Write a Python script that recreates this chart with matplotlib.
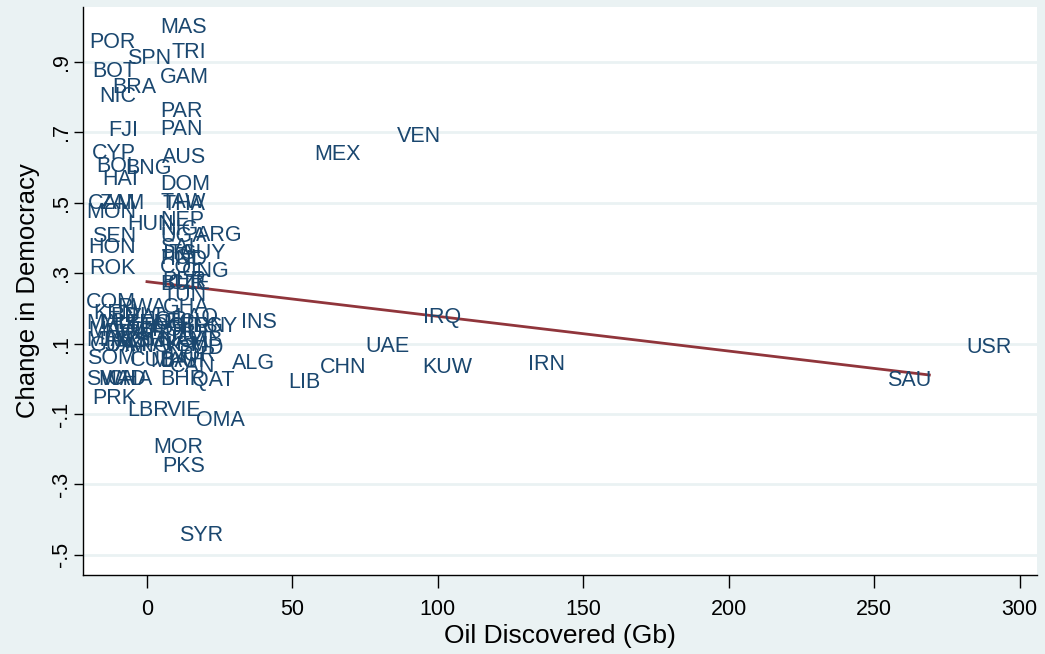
import matplotlib
matplotlib.use("Agg")
import matplotlib.pyplot as plt

# 国コードと (石油発見量, 民主化の変化)
codes = ["MAS", "POR", "TRI", "SPN", "BOT", "GAM", "BRA", "NIC", "PAR", "PAN",
         "FJI", "CYP", "AUS", "BOL", "BNG", "HAI", "DOM", "MEX", "VEN", "CAM",
         "ZAM", "TAW", "THA", "MON", "NEP", "HUN", "NIG", "SEN", "UGA", "ARG",
         "HON", "SAL", "ITA", "GUY", "POL", "IND", "COL", "CNG", "ROK", "PER",
         "BUR", "CZE", "TUN", "COM", "RWA", "GHA", "KEN", "BDI", "ZAI", "LAO",
         "JOR", "MAL", "MLI", "ETH", "BEN", "TOG", "GUI", "ECU", "BRN", "EGY",
         "INS", "MAW", "NIR", "CAF", "BFO", "PHI", "TUR", "MAA", "TAZ", "MZM",
         "SRI", "NAM", "GAB", "GUA", "JAM", "ANG", "PAK", "YEM", "SUD", "UAE",
         "IRQ", "SOM", "CUB", "MAU", "BAH", "NOR", "CAN", "ALG", "CHN", "KUW",
         "IRN", "SWA", "MAD", "CHA", "BHR", "QAT", "LIB", "USR", "SAU", "PRK",
         "LBR", "VIE", "OMA", "MOR", "PKS", "SYR"]
oil = [4.5, -20.0, 8.6, -6.9, -18.9, 4.5, -12.0, -16.5, 4.5, 4.5,
       -13.4, -18.9, 5.2, -17.5, -7.6, -15.5, 4.5, 57.4, 86.0, -20.3,
       -16.2, 4.5, 5.2, -21.0, 4.5, -6.9, 4.5, -18.9, 4.5, 16.9,
       -20.3, 4.5, 5.5, 11.4, 4.5, 7.9, 4.5, 12.0, -20.0, 5.2,
       4.5, 7.2, 5.2, -21.0, -10.3, 5.5, -18.6, -12.7, -6.5, 9.6,
       -0.7, -21.0, -16.2, -11.7, -7.6, -2.4, 2.8, 6.2, 11.4, 15.5,
       32.3, -20.3, -14.8, -9.3, -3.1, 3.8, 9.6, -21.0, -16.2, -11.0,
       -4.1, 4.5, 10.7, -19.6, -14.4, -7.6, -2.4, 5.2, 10.7, 75.0,
       94.9, -20.6, -5.8, 1.0, 4.5, 7.2, 7.9, 29.2, 59.5, 94.6,
       131.1, -21.0, -16.9, -13.4, 4.5, 15.5, 48.5, 281.7, 254.6, -18.9,
       -6.9, 6.9, 16.9, 2.1, 5.2, 11.0]
dem = [0.997, 0.954, 0.926, 0.909, 0.872, 0.857, 0.826, 0.803, 0.758, 0.707,
       0.704, 0.641, 0.630, 0.602, 0.596, 0.565, 0.551, 0.636, 0.687, 0.499,
       0.499, 0.502, 0.494, 0.471, 0.451, 0.437, 0.423, 0.403, 0.403, 0.406,
       0.372, 0.372, 0.355, 0.355, 0.343, 0.338, 0.315, 0.306, 0.312, 0.278,
       0.269, 0.272, 0.238, 0.218, 0.204, 0.204, 0.187, 0.178, 0.173, 0.173,
       0.167, 0.156, 0.156, 0.150, 0.156, 0.150, 0.156, 0.161, 0.150, 0.150,
       0.159, 0.136, 0.130, 0.130, 0.136, 0.130, 0.130, 0.110, 0.110, 0.107,
       0.110, 0.110, 0.110, 0.096, 0.096, 0.093, 0.096, 0.096, 0.087, 0.093,
       0.173, 0.059, 0.051, 0.048, 0.048, 0.065, 0.034, 0.045, 0.031, 0.031,
       0.042, -0.003, -0.003, -0.003, -0.003, -0.006, -0.009, 0.088, -0.006, -0.057,
       -0.091, -0.091, -0.117, -0.194, -0.248, -0.444]

# 回帰直線の両端
fit_x = [0, 269]
fit_y = [0.276, 0.011]

xticks = [0, 50, 100, 150, 200, 250, 300]
yticks = [-0.5, -0.3, -0.1, 0.1, 0.3, 0.5, 0.7, 0.9]
ylabels = ["-.5", "-.3", "-.1", ".1", ".3", ".5", ".7", ".9"]

bg = "#EAF2F3"
navy = "#1A476F"
maroon = "#90353B"

plt.rcParams['font.family'] = ['Liberation Sans', 'DejaVu Sans']

fig = plt.figure(figsize=(10.45, 6.54), dpi=100, facecolor=bg)
ax = fig.add_axes([0.0794, 0.1208, 0.9129, 0.8685])
ax.set_facecolor("white")

ax.set_xlim(-22, 306)
ax.set_ylim(-0.557, 1.056)

for yt in yticks:
    ax.axhline(yt, color=bg, lw=2, zorder=0)

ax.plot(fit_x, fit_y, color=maroon, lw=2, zorder=2)

for c, x, y in zip(codes, oil, dem):
    ax.text(x, y, c, color=navy, fontsize=15.5, ha="left", va="center", zorder=3)

ax.set_xticks(xticks)
ax.set_yticks(yticks)
ax.set_yticklabels(ylabels, rotation=90, va="center")
ax.tick_params(axis="both", labelsize=15.5, width=1, color="black")
ax.tick_params(axis="x", length=9, pad=8)
ax.tick_params(axis="y", length=6.5, pad=1.5)

for s in ["top", "right"]:
    ax.spines[s].set_visible(False)
for s in ["left", "bottom"]:
    ax.spines[s].set_linewidth(1)
    ax.spines[s].set_color("black")

ax.set_xlabel("Oil Discovered (Gb)", fontsize=19, labelpad=3)
ax.set_ylabel("Change in Democracy", fontsize=18.5, labelpad=8)

fig.savefig("out.png", dpi=100, facecolor=bg)
